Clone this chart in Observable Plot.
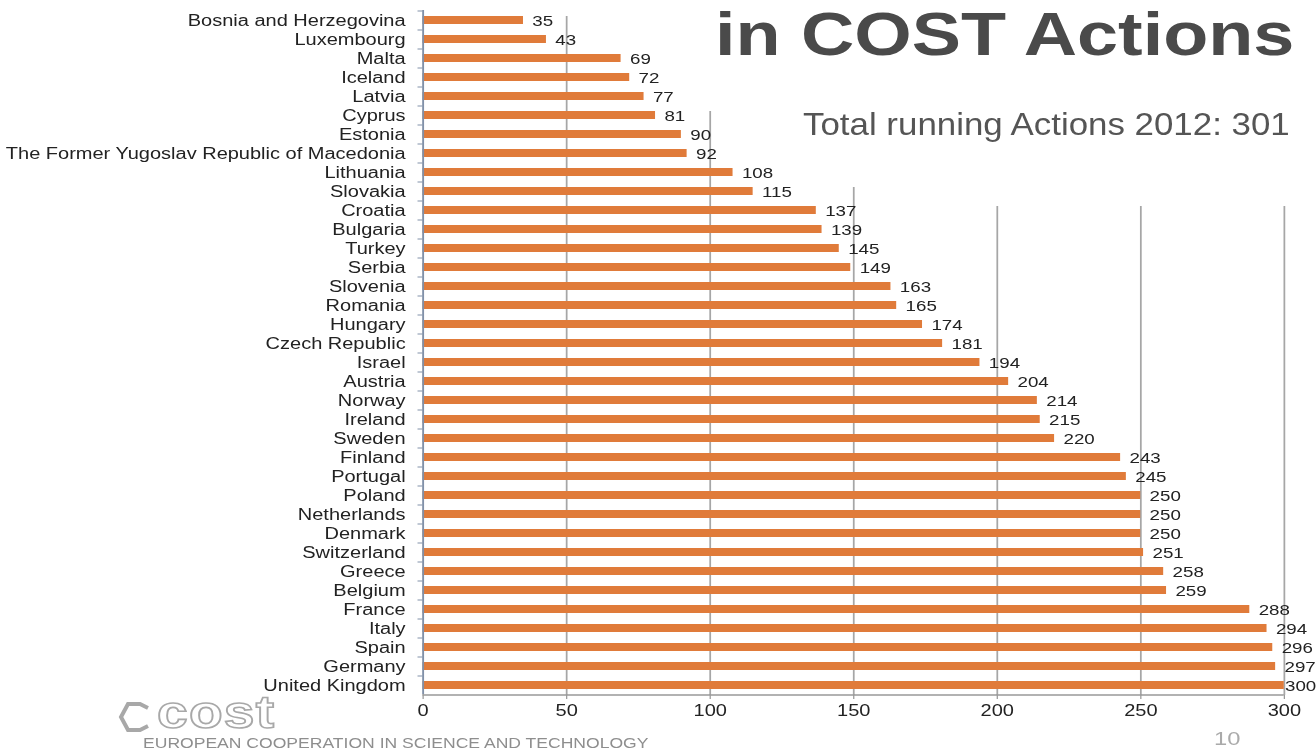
<!DOCTYPE html>
<html>
<head>
<meta charset="utf-8">
<script src="https://cdn.jsdelivr.net/npm/d3@7"></script>
<script src="https://cdn.jsdelivr.net/npm/@observablehq/plot@0.6"></script>
<style>
  html, body { margin: 0; padding: 0; background: #fff; }
  #wrap { position: relative; width: 1316px; height: 750px; overflow: hidden; background: #fff; font-family: 'Liberation Sans', Arial, sans-serif; }
  #chart { position: absolute; left: 0; top: 0; transform-origin: 0 0; }
  #chart svg [aria-label="x-axis"] line, #chart svg [aria-label="x-axis tick"] { stroke: #999; }
  .ov { position: absolute; white-space: nowrap; line-height: 1; transform-origin: 0 0; }
  #title { left: 715px; top: 4px; font-size: 62px; line-height: 60px; font-weight: bold; color: #4a4a4a; transform: scaleX(1.19); }
  #subtitle { left: 803px; top: 108px; font-size: 32px; color: #555; transform: scaleX(1.09); }
  #logo { left: 157px; top: 694px; font-size: 46px; line-height: 36px; font-weight: bold; color: #fff; -webkit-text-stroke: 1.6px #a8a8a8; transform: scaleX(1.2); letter-spacing: 1px; }
  #org { left: 143px; top: 735px; font-size: 15px; color: #8e8e8e; transform: scaleX(1.17); }
  #page { left: 1214px; top: 731px; font-size: 19px; line-height: 16px; color: #aaa; transform: scaleX(1.25); }
  #hex { position: absolute; left: 118px; top: 702px; }
</style>
</head>
<body>
<div id="wrap">
  <div id="chart"></div>
  <div class="ov" id="title">in COST Actions</div>
  <div class="ov" id="subtitle">Total running Actions 2012: 301</div>
  <svg id="hex" width="36" height="30" viewBox="0 0 36 30">
    <polyline points="30,6 22,2 10,2 3,15 10,28 22,28 30,24" fill="none" stroke="#a8a8a8" stroke-width="4"/>
  </svg>
  <div class="ov" id="logo">cost</div>
  <div class="ov" id="org">EUROPEAN COOPERATION IN SCIENCE AND TECHNOLOGY</div>
  <div class="ov" id="page">10</div>
</div>
<script>
const countries = [
  "Bosnia and Herzegovina", "Luxembourg", "Malta", "Iceland", "Latvia", "Cyprus", "Estonia",
  "The Former Yugoslav Republic of Macedonia", "Lithuania", "Slovakia", "Croatia", "Bulgaria",
  "Turkey", "Serbia", "Slovenia", "Romania", "Hungary", "Czech Republic", "Israel", "Austria",
  "Norway", "Ireland", "Sweden", "Finland", "Portugal", "Poland", "Netherlands", "Denmark",
  "Switzerland", "Greece", "Belgium", "France", "Italy", "Spain", "Germany", "United Kingdom"
];
const values = [
  35, 43, 69, 72, 77, 81, 90, 92, 108, 115, 137, 139, 145, 149, 163, 165, 174, 181, 194, 204,
  214, 215, 220, 243, 245, 250, 250, 250, 251, 258, 259, 288, 294, 296, 297, 300
];
const xTicks = [0, 50, 100, 150, 200, 250, 300];
// row at which each gridline (50..300) becomes visible below the slide's text boxes
const gridStart = ["Bosnia and Herzegovina", "Cyprus", "Slovakia", "Croatia", "Croatia", "Croatia"];

const xMax = 300;
const lastCountry = countries[countries.length - 1];
const data = countries.map((c, i) => ({country: c, value: values[i]}));

const SX = 1.25;               // horizontal stretch of the original slide image
const W = Math.round(1316 / SX);
const step = 19;

const chart = Plot.plot({
  width: W,
  height: 750,
  marginLeft: 338,
  marginRight: 26,
  marginTop: 10,
  marginBottom: 56,
  style: {fontFamily: "'Liberation Sans', Arial, sans-serif", fontSize: "16px", color: "#222", background: "transparent", overflow: "visible"},
  x: {domain: [0, xMax], ticks: xTicks, tickSize: 5, tickPadding: 5, label: null},
  y: {domain: countries, paddingInner: 0.58, paddingOuter: 0.29, tickSize: 0, tickPadding: 14, label: null},
  marks: [
    Plot.ruleX(xTicks.slice(1), {x: d => d, y1: (d, i) => gridStart[i], y2: () => lastCountry, insetBottom: -6, stroke: "#a6a6a6", strokeWidth: 1.4}),
    Plot.barX(data, {x: "value", y: "country", fill: "#E07B3A"}),
    Plot.ruleX([0], {stroke: "#8090a8", strokeWidth: 1.5}),
    Plot.ruleY(countries, {y: d => d, x1: 0, x2: 0, insetLeft: -4, dy: -step / 2, stroke: "#8090a8"}),
    Plot.ruleY([lastCountry], {y: d => d, x1: 0, x2: xMax, dy: step / 2, stroke: "#999", strokeWidth: 1.5}),
    Plot.text(data, {filter: d => d.value < xMax, x: "value", y: "country", text: d => String(d.value), textAnchor: "start", dx: 7, dy: 1, fontSize: 15, fill: "#222"}),
    Plot.text(data, {filter: d => d.value >= xMax, x: "value", y: "country", text: d => String(d.value), textAnchor: "start", dx: 0.5, dy: 1, fontSize: 15, fill: "#222"})
  ]
});
const holder = document.getElementById("chart");
holder.style.transform = `scaleX(${SX})`;
holder.appendChild(chart);
</script>
</body>
</html>
